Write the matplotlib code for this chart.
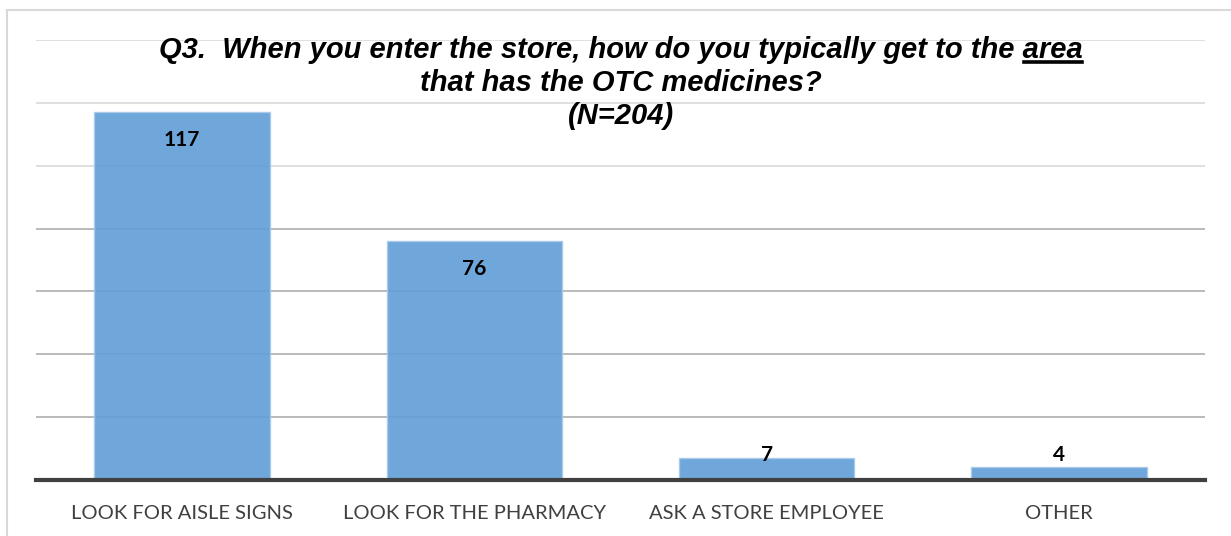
import matplotlib
matplotlib.use("Agg")
import matplotlib.pyplot as plt
from matplotlib.patches import Rectangle
from matplotlib.lines import Line2D

categories = ["LOOK FOR AISLE SIGNS", "LOOK FOR THE PHARMACY", "ASK A STORE EMPLOYEE", "OTHER"]
counts = [117, 76, 7, 4]
title_lines = [
    "Q3.  When you enter the store, how do you typically get to the area",
    "that has the OTC medicines?",
    "(N=204)",
]
underlined_word = "area"
y_ticks = [0, 20, 40, 60, 80, 100, 120, 140]

W, H = 1231, 536
fig = plt.figure(figsize=(W / 100, H / 100), dpi=100)
fig.patch.set_facecolor("white")

# outer chart frame
fig.patches.append(Rectangle((7 / W, -0.05), 1.1, (H - 10) / H + 0.05,
                             transform=fig.transFigure, fill=False,
                             edgecolor="#d9d9d9", linewidth=1.5))

ax = fig.add_axes([36 / W, 56 / H, 1169 / W, 440 / H])
ax.set_xlim(-0.5, len(categories) - 0.5)
ax.set_ylim(0, 140)

# horizontal gridlines
for t in y_ticks[1:]:
    col = "#b4b4b4" if t <= 80 else "#dcdcdc"
    ax.axhline(t, color=col, linewidth=1.3, zorder=1)

x = list(range(len(categories)))
ax.bar(x, counts, width=0.6, color="#609ed8", alpha=0.9,
       edgecolor="#a8c9ea", linewidth=1.0, zorder=2)

# baseline
ax.axhline(0, color="#404040", linewidth=3, zorder=4, clip_on=False)

label_font = dict(ha="center", va="center", fontsize=15, fontweight="bold",
                  family="Lato", color="black", zorder=5)
for xi, v in zip(x, counts):
    if v > 20:
        ax.annotate(str(v), (xi, v), xytext=(0, -28), textcoords="offset pixels",
                    **label_font)
    else:
        ax.annotate(str(v), (xi, 0), xytext=(0, 25), textcoords="offset pixels",
                    **label_font)

ax.set_xticks(x)
ax.set_xticklabels(categories, fontsize=14.5, family="Lato", color="#404040")
ax.tick_params(axis="x", length=0, pad=18)
ax.set_yticks([])
for s in ax.spines.values():
    s.set_visible(False)

# title, one line at a time
title_font = dict(family="Liberation Sans", fontsize=21, fontweight="bold",
                  style="italic", color="black", ha="center", va="baseline")
baselines = [58, 91, 124]
cx = 621 / W
texts = []
for line, by in zip(title_lines, baselines):
    texts.append(fig.text(cx, 1 - by / H, line, **title_font))

fig.canvas.draw()
r = fig.canvas.get_renderer()
bb_line = texts[0].get_window_extent(r)
probe = fig.text(0, 0, underlined_word, **title_font)
w_word = probe.get_window_extent(r).width
probe.remove()
x1 = bb_line.x1 - 1
x0 = x1 - w_word + 2
uy = H - 62
fig.add_artist(Line2D([x0 / W, x1 / W], [uy / H, uy / H], transform=fig.transFigure,
                      color="black", linewidth=2.6))

fig.savefig("out.png", dpi=100)
